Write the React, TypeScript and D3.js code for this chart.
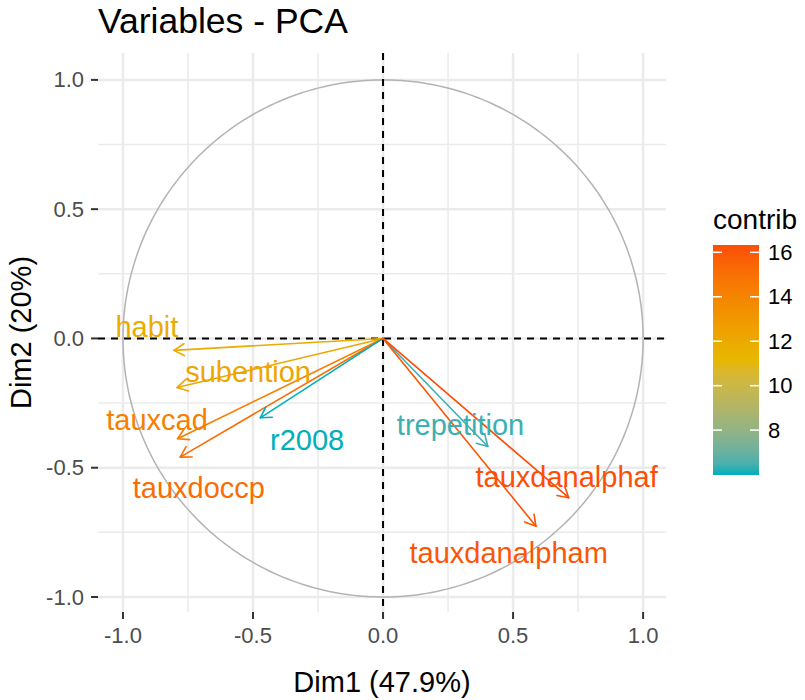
import React from 'react'
import * as d3 from 'd3'

// variables, coordinates on Dim1 / Dim2, contribution and label spot
const variables = ['habit', 'subention', 'tauxcad', 'tauxdoccp', 'r2008', 'trepetition', 'tauxdanalphaf', 'tauxdanalpham']
const dim1 = [-0.804, -0.792, -0.79, -0.78, -0.472, 0.403, 0.714, 0.588]
const dim2 = [-0.046, -0.19, -0.388, -0.459, -0.307, -0.418, -0.616, -0.726]
const contrib = [11.9, 12.2, 14.3, 15.1, 5.98, 6.3, 16.33, 16.1]
const labelX = [-0.908, -0.519, -0.869, -0.708, -0.292, 0.298, 0.706, 0.483]
const labelY = [0.044, -0.13, -0.315, -0.578, -0.393, -0.335, -0.536, -0.83]

const majorTicks = [-1, -0.5, 0, 0.5, 1]
const minorTicks = [-0.75, -0.25, 0.25, 0.75]
const legendTicks = [8, 10, 12, 14, 16]
const gradientCols = ['#00AFBB', '#E7B800', '#FC4E07']

const FONT = '"Liberation Sans", Arial, sans-serif'

const W = 805
const H = 700
const panel = {left: 98, right: 666, top: 53, bottom: 612}

function App() {
    const x = d3.scaleLinear().domain([-1.096, 1.088]).range([panel.left, panel.right])
    const y = d3.scaleLinear().domain([-1.058, 1.104]).range([panel.bottom, panel.top])

    const cMin = d3.min(contrib) as number
    const cMax = d3.max(contrib) as number
    const color = d3.scaleLinear<string>()
        .domain([cMin, (cMin + cMax) / 2, cMax])
        .range(gradientCols)
        .interpolate(d3.interpolateLab)

    // legend bar
    const bar = {x: 713, w: 46, top: 245, bottom: 475}
    const legendY = d3.scaleLinear().domain([cMin, cMax]).range([bar.bottom, bar.top])
    const stops = d3.range(0, 1.0001, 0.05)

    // unit circle
    const circle = d3.line<number>()
        .x(t => x(Math.cos(t)))
        .y(t => y(Math.sin(t)))(d3.range(0, 2 * Math.PI + 0.01, 0.02))

    // plain hyphen for negatives, like R does
    const fmt = (t: number) => d3.format('.1f')(t).replace('\u2212', '-')
    const headLen = 12
    const headAngle = Math.PI / 6

    return (
        <svg width={W} height={H} style={{display: 'block', position: 'absolute', left: 0, top: 0}}>
            <rect width={W} height={H} fill='white' />

            <text x={panel.left} y={33} fontFamily={FONT} fontSize={35.5} fill='black'>Variables - PCA</text>

            {/* grid */}
            {minorTicks.map(t => (
                <g key={'mn' + t}>
                    <line x1={x(t)} x2={x(t)} y1={panel.top} y2={panel.bottom} stroke='#EBEBEB' strokeWidth={1.5} />
                    <line x1={panel.left} x2={panel.right} y1={y(t)} y2={y(t)} stroke='#EBEBEB' strokeWidth={1.5} />
                </g>
            ))}
            {majorTicks.map(t => (
                <g key={'mj' + t}>
                    <line x1={x(t)} x2={x(t)} y1={panel.top} y2={panel.bottom} stroke='#EBEBEB' strokeWidth={2.5} />
                    <line x1={panel.left} x2={panel.right} y1={y(t)} y2={y(t)} stroke='#EBEBEB' strokeWidth={2.5} />
                </g>
            ))}

            <path d={circle || ''} fill='none' stroke='#B3B3B3' strokeWidth={1.5} />

            <line x1={panel.left} x2={panel.right} y1={y(0)} y2={y(0)} stroke='black' strokeWidth={2} strokeDasharray='7,6' />
            <line x1={x(0)} x2={x(0)} y1={panel.top} y2={panel.bottom} stroke='black' strokeWidth={2} strokeDasharray='7,6' />

            {/* arrows */}
            {variables.map((v, i) => {
                const x0 = x(0), y0 = y(0)
                const x1 = x(dim1[i]), y1 = y(dim2[i])
                const a = Math.atan2(y1 - y0, x1 - x0)
                const h1 = [x1 - headLen * Math.cos(a - headAngle), y1 - headLen * Math.sin(a - headAngle)]
                const h2 = [x1 - headLen * Math.cos(a + headAngle), y1 - headLen * Math.sin(a + headAngle)]
                const c = color(contrib[i])
                return (
                    <g key={v} stroke={c} strokeWidth={1.6} fill='none' strokeLinecap='round' strokeLinejoin='round'>
                        <line x1={x0} y1={y0} x2={x1} y2={y1} />
                        <polyline points={`${h1[0]},${h1[1]} ${x1},${y1} ${h2[0]},${h2[1]}`} />
                    </g>
                )
            })}
            {variables.map((v, i) => (
                <text key={'l' + v} x={x(labelX[i])} y={y(labelY[i])} textAnchor='middle' dominantBaseline='central'
                    fontFamily={FONT} fontSize={29} fill={color(contrib[i])}>{v}</text>
            ))}

            {/* axes */}
            {majorTicks.map(t => (
                <g key={'ax' + t}>
                    <line x1={x(t)} x2={x(t)} y1={panel.bottom} y2={panel.bottom + 7} stroke='#333333' strokeWidth={2} />
                    <text x={x(t)} y={panel.bottom + 31} textAnchor='middle' fontFamily={FONT} fontSize={22} fill='#4D4D4D'>{fmt(t)}</text>
                    <line x1={panel.left - 7} x2={panel.left} y1={y(t)} y2={y(t)} stroke='#333333' strokeWidth={2} />
                    <text x={panel.left - 14} y={y(t)} textAnchor='end' dominantBaseline='central' fontFamily={FONT} fontSize={22} fill='#4D4D4D'>{fmt(t)}</text>
                </g>
            ))}
            <text x={(panel.left + panel.right) / 2} y={692} textAnchor='middle' fontFamily={FONT} fontSize={29} fill='black'>Dim1 (47.9%)</text>
            <text transform={`translate(31,${(panel.top + panel.bottom) / 2}) rotate(-90)`} textAnchor='middle'
                fontFamily={FONT} fontSize={29} fill='black'>Dim2 (20%)</text>

            {/* legend */}
            <defs>
                <linearGradient id='contribGrad' x1='0' y1='1' x2='0' y2='0'>
                    {stops.map(s => (
                        <stop key={s} offset={s} stopColor={color(cMin + s * (cMax - cMin))} />
                    ))}
                </linearGradient>
            </defs>
            <text x={bar.x} y={229} fontFamily={FONT} fontSize={28} fill='black'>contrib</text>
            <rect x={bar.x} y={bar.top} width={bar.w} height={bar.bottom - bar.top} fill='url(#contribGrad)' />
            {legendTicks.map(t => (
                <g key={'lg' + t}>
                    <line x1={bar.x} x2={bar.x + 9} y1={legendY(t)} y2={legendY(t)} stroke='white' strokeWidth={1.5} />
                    <line x1={bar.x + bar.w - 9} x2={bar.x + bar.w} y1={legendY(t)} y2={legendY(t)} stroke='white' strokeWidth={1.5} />
                    <text x={bar.x + bar.w + 9} y={legendY(t)} dominantBaseline='central' fontFamily={FONT} fontSize={22} fill='black'>{t}</text>
                </g>
            ))}
        </svg>
    )
}

export default App
